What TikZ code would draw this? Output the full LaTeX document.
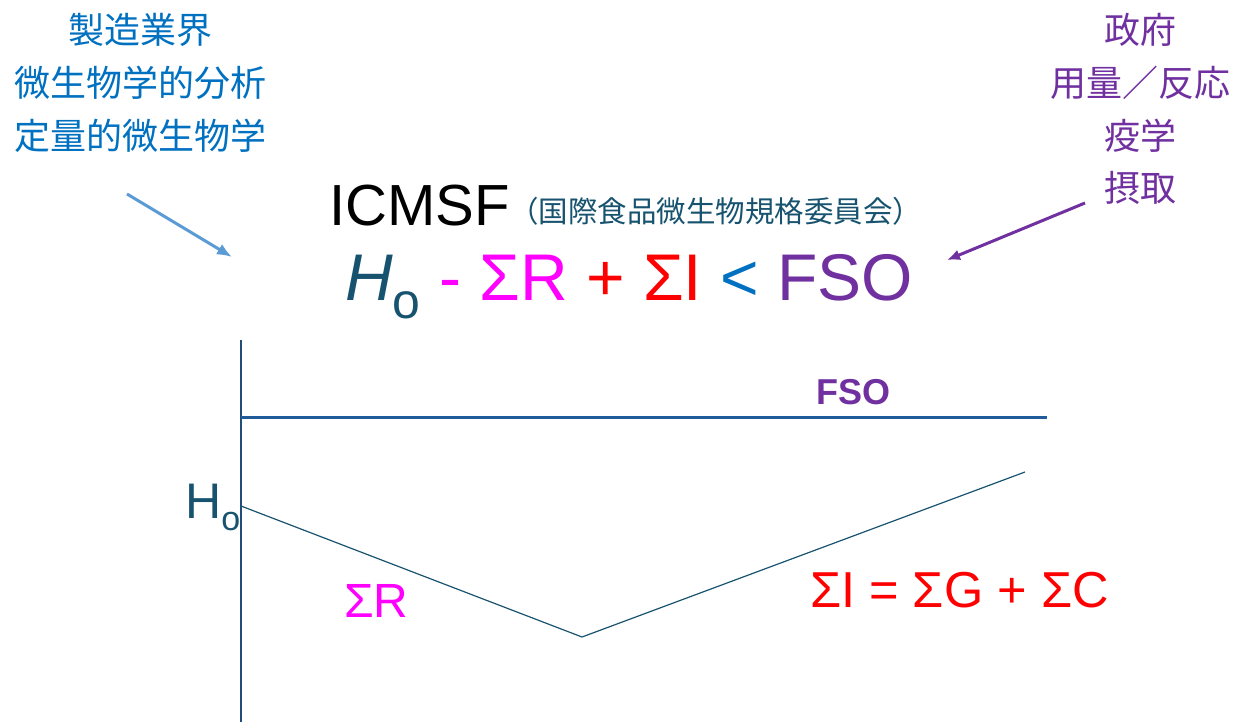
\documentclass[tikz,border=0pt]{standalone}
\usepackage{fontspec}
\usetikzlibrary{arrows.meta}
\setmainfont{Liberation Sans}
\newfontfamily\jp{Noto Sans CJK JP}
\definecolor{lblue}{HTML}{0070C0}
\definecolor{arrblue}{HTML}{5B9BD5}
\definecolor{purp}{HTML}{7030A0}
\definecolor{tealc}{HTML}{17536F}
\definecolor{axis}{HTML}{1F4E79}
\definecolor{fsoline}{HTML}{1F5C99}
\definecolor{mag}{HTML}{FF00FF}
\definecolor{redc}{HTML}{FF0000}
\newcommand{\fs}[1]{\fontsize{#1}{#1}\selectfont}
\tikzset{
  jpleft/.style={font=\jp\fs{36}, text=lblue, inner sep=0pt},
  jpright/.style={font=\jp\fs{36}, text=purp, inner sep=0pt},
  thinline/.style={draw=tealc, line width=1.2pt},
  axisline/.style={draw=axis, line width=1.8pt},
}
\begin{document}
\begin{tikzpicture}[x=1pt,y=-1pt]
\useasboundingbox (0,0) rectangle (1241,722);
% left texts
\node[jpleft] (l1) at (140,30) {製造業界};
\node[jpleft] (l2) at (140,83) {微生物学的分析};
\node[jpleft] (l3) at (140,136) {定量的微生物学};
% right texts
\node[jpright] (r1) at (1140,30) {政府};
\node[jpright] (r2) at (1140,83) {用量／反応};
\node[jpright] (r3) at (1140,136) {疫学};
\node[jpright] (r4) at (1140,188) {摂取};
% arrows
\coordinate (la0) at (127,194);
\coordinate (la1) at (232,257);
\draw[arrblue, line width=3pt, -{Latex[length=15pt,width=12pt]}] (la0) -- (la1);
\coordinate (ra0) at (1085,203);
\coordinate (ra1) at (947,260);
\draw[purp, line width=3pt, -{Latex[length=13pt,width=11pt]}] (ra0) -- (ra1);
% title
\node[anchor=base west, inner sep=0pt, font=\fs{58}] (icmsf) at (329,225) {ICMSF};
\node[anchor=base west, inner sep=0pt, font=\jp\fs{29.5}, text=tealc] (icmsfjp) at (509,222) {（国際食品微生物規格委員会）};
% equation
\node[anchor=base west, inner sep=0pt, font=\fs{66}] (eq) at (345,300)
 {{\color{tealc}\textit{H}\raisebox{-18pt}{\fs{50}o}} {\color{mag}- ΣR} {\color{redc}+ ΣI} {\color{lblue}<} {\color{purp}FSO}};
% graph
\coordinate (ax0) at (241,340);
\coordinate (ax1) at (241,722);
\draw[axisline] (ax0) -- (ax1);
\coordinate (f0) at (241,417);
\coordinate (f1) at (1047,417);
\draw[draw=fsoline, line width=3pt] (f0) -- (f1);
\node[anchor=base, inner sep=0pt, font=\bfseries\fs{36}, text=purp] (fso) at (853,404) {FSO};
\coordinate (v0) at (241,506);
\coordinate (v1) at (582,637);
\coordinate (v2) at (1025,472);
\draw[thinline] (v0) -- (v1) -- (v2);
\node[anchor=base west, inner sep=0pt, font=\fs{50}, text=tealc] (ho) at (185,518) {H\raisebox{-12pt}{\fs{34}o}};
\node[anchor=base west, inner sep=0pt, font=\fs{48}, text=mag] (sr) at (344,617) {ΣR};
\node[anchor=base west, inner sep=0pt, font=\fs{50.5}, text=redc] (si) at (810,607) {ΣI = ΣG + ΣC};
\end{tikzpicture}
\end{document}
